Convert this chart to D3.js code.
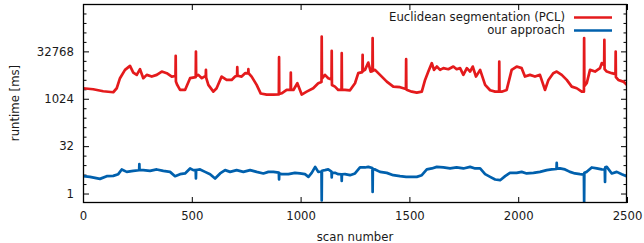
<!DOCTYPE html>
<html>
<head>
<meta charset="utf-8">
<script src="https://cdn.jsdelivr.net/npm/d3@7"></script>
<style>
  html, body { margin: 0; padding: 0; background: #fff; }
  svg { display: block; }
  text { font-family: "DejaVu Sans", sans-serif; fill: #1a1a1a; }
</style>
</head>
<body>
<svg id="chart" width="644" height="243"></svg>
<script>
// ---- data ----
const seriesNames = ["Euclidean segmentation (PCL)", "our approach"];
const seriesColors = ["#e41a1c", "#0060ad"];

const xTicks = [0, 500, 1000, 1500, 2000, 2500];
const yTicks = [1, 32, 1024, 32768];
const yDomain = [0.5, 1048576];

const pclScan = [0, 47, 93, 139, 155, 170, 193, 216, 231, 247, 262, 277, 293, 316, 339, 362, 385, 408,
  425, 426, 427, 433, 446, 469, 492, 518, 519, 520, 530, 546, 564, 565, 566, 576, 599, 614, 637, 660, 683,
  699, 708, 709, 710, 729, 745, 759, 760, 761, 775, 798, 817, 844, 875, 900, 901, 902, 913, 936, 954, 955,
  956, 967, 985, 1005, 1028, 1058, 1081, 1096, 1097, 1098, 1112, 1127, 1142, 1143, 1144, 1158, 1173, 1188,
  1189, 1190, 1204, 1227, 1250, 1265, 1284, 1285, 1286, 1296, 1311, 1322, 1330, 1331, 1332, 1342, 1365,
  1396, 1426, 1457, 1484, 1485, 1486, 1490, 1511, 1534, 1557, 1572, 1587, 1603, 1613, 1626, 1641, 1656,
  1679, 1702, 1717, 1733, 1748, 1764, 1779, 1791, 1806, 1825, 1848, 1871, 1894, 1912, 1913, 1914, 1924,
  1947, 1970, 1993, 2016, 2031, 2054, 2077, 2100, 2123, 2139, 2161, 2177, 2200, 2223, 2246, 2269, 2292,
  2302, 2303, 2304, 2315, 2330, 2353, 2376, 2384, 2395, 2396, 2397, 2407, 2430, 2447, 2448, 2449, 2460,
  2483, 2500];
const pclMs = [2210, 2055, 1775, 1650, 2210, 4610, 8480, 11350, 6940, 5870, 8900, 4610, 5870, 5185, 5870,
  7490, 6655, 5185,
  5400, 23660, 3600, 2818, 1951, 1951, 4610, 5000, 32330, 5400, 5870, 4610, 5500, 8480, 4800, 2818, 1722,
  2210, 5185, 4066, 4066,
  5185, 5500, 10300, 5500, 5185, 6655, 6600, 8900, 6600, 5185, 2818, 1500, 1390, 1390, 1400, 21480, 1450,
  1530, 1951, 1951, 6940,
  1951, 1951, 3190, 1390, 1722, 2210, 3190, 3500, 97300, 4500, 5870, 4610, 4200, 34140, 2800, 2486, 1951,
  1951, 28750, 1951, 1951, 1903, 3190, 6655, 7200, 25380, 7800, 8480, 14470, 7490, 7700, 86500, 8000, 8480,
  5870, 3590, 2486, 2385, 2100, 18560, 2000, 1951, 1722, 1607, 1722, 4066, 7490, 13870, 8480, 10810, 8480,
  9610, 8900, 10810, 8900, 9610, 5870, 9610, 7490, 10810, 5185, 8480, 2818, 1903, 1722, 1722, 15600, 1722,
  1722, 1951, 8480, 10810, 9610, 5185, 5870, 5185, 5870, 1951, 4066, 6655, 7490, 5870, 4066, 2486, 2210,
  1722, 1722, 86500, 2600, 3190, 8480, 7490, 9610, 13870, 12000, 76350, 9000, 7490, 6655, 6200, 32330,
  5000, 4066, 3590, 2818];

const oursScan = [0, 32, 78, 109, 139, 162, 178, 201, 231, 258, 259, 260, 277, 308, 339, 369, 400, 423, 446,
  469, 492, 507, 518, 519, 520, 538, 561, 584, 607, 630, 653, 676, 706, 737, 768, 798, 829, 852, 875, 900,
  901, 902, 913, 944, 974, 997, 1020, 1036, 1051, 1067, 1081, 1096, 1097, 1098, 1112, 1127, 1142, 1143,
  1144, 1158, 1173, 1188, 1189, 1190, 1204, 1227, 1250, 1273, 1296, 1311, 1330, 1331, 1332, 1342, 1365,
  1396, 1426, 1457, 1485, 1511, 1534, 1557, 1580, 1603, 1626, 1656, 1687, 1717, 1748, 1779, 1802, 1825,
  1848, 1871, 1894, 1917, 1940, 1962, 1993, 2016, 2039, 2070, 2100, 2131, 2154, 2176, 2177, 2178, 2192,
  2215, 2238, 2261, 2284, 2302, 2303, 2304, 2315, 2338, 2361, 2384, 2398, 2399, 2400, 2407, 2430, 2453,
  2476, 2498];
const oursMs = [3.56, 3.38, 2.92, 3.56, 3.64, 4.12, 5.82, 4.88, 5.24, 5.5, 8.57, 5.5, 5.53, 5.24, 5.82, 5.24,
  4.88, 3.56, 4.12, 4.34, 6.26, 5.53, 5.5, 3.0, 5.6, 5.82, 4.88, 4.12, 3.0, 4.34, 5.53, 4.88, 5.53, 4.88,
  5.53, 4.88, 4.34, 4.88, 4.88, 4.6, 2.79, 4.4, 4.12, 4.12, 4.53, 4.34, 4.12, 3.38, 4.53, 7.04, 4.88, 5.0,
  0.6, 5.3, 5.53, 5.82, 5.0, 3.23, 4.6, 4.53, 4.12, 4.1, 2.52, 4.1, 4.12, 3.83, 4.34, 6.73, 6.73, 7.04, 6.5,
  1.12, 6.0, 5.82, 4.88, 4.53, 3.83, 3.56, 3.38, 3.38, 3.38, 3.83, 5.82, 6.26, 7.04, 6.73, 6.26, 6.73, 6.26,
  7.04, 6.26, 6.26, 4.12, 3.38, 2.79, 2.65, 3.56, 4.53, 4.53, 4.88, 4.34, 4.53, 4.88, 5.53, 5.82, 6.0, 9.44,
  6.2, 6.26, 5.82, 4.88, 4.34, 4.12, 4.0, 0.5, 4.6, 4.88, 6.73, 6.26, 5.82, 5.8, 2.34, 6.8, 7.04, 4.34,
  4.88, 4.12, 3.56];

// ---- layout ----
const svg = d3.select("#chart");
const mL = 83, mR = 627, mT = 4, mB = 203;

const x = d3.scaleLinear().domain([0, 2500]).range([mL, mR]);
const y = d3.scaleLog().base(2).domain(yDomain).range([mB, mT]);
const yMinor = d3.range(0, 20).map(e => Math.pow(2, e)).filter(v => !yTicks.includes(v));

// clip
svg.append("defs").append("clipPath").attr("id", "plotclip")
  .append("rect").attr("x", mL).attr("y", mT).attr("width", mR - mL).attr("height", mB - mT);

// axes
const fs = "11.7px";
const gx = svg.append("g").attr("transform", `translate(0,${mB})`)
  .call(d3.axisBottom(x).tickValues(xTicks).tickSize(-6).tickPadding(9).tickFormat(d3.format("d")));
const gxt = svg.append("g").attr("transform", `translate(0,${mT})`)
  .call(d3.axisTop(x).tickValues(xTicks).tickSize(-6).tickFormat(""));
const gy = svg.append("g").attr("transform", `translate(${mL},0)`)
  .call(d3.axisLeft(y).tickValues(yTicks).tickSize(-6).tickPadding(9).tickFormat(d3.format("d")));
const gym = svg.append("g").attr("transform", `translate(${mL},0)`)
  .call(d3.axisLeft(y).tickValues(yMinor).tickSize(-3.5).tickFormat(""));
const gyr = svg.append("g").attr("transform", `translate(${mR},0)`)
  .call(d3.axisRight(y).tickValues(yTicks).tickSize(-6).tickFormat(""));
const gyrm = svg.append("g").attr("transform", `translate(${mR},0)`)
  .call(d3.axisRight(y).tickValues(yMinor).tickSize(-3.5).tickFormat(""));

[gx, gxt, gy, gym, gyr, gyrm].forEach(g => {
  g.select(".domain").remove();
  g.selectAll("line").attr("stroke", "#000").attr("stroke-width", 1);
  g.selectAll("text").attr("font-family", "DejaVu Sans").attr("font-size", fs).attr("fill", "#1a1a1a");
});

// series lines
const line = d3.line().x(d => x(d[0])).y(d => y(d[1]));
const plot = svg.append("g").attr("clip-path", "url(#plotclip)");
plot.append("path").datum(d3.zip(pclScan, pclMs))
  .attr("d", line).attr("fill", "none").attr("stroke", seriesColors[0])
  .attr("stroke-width", 2.7).attr("stroke-linejoin", "round");
plot.append("path").datum(d3.zip(oursScan, oursMs))
  .attr("d", line).attr("fill", "none").attr("stroke", seriesColors[1])
  .attr("stroke-width", 2.7).attr("stroke-linejoin", "round");

// frame
svg.append("rect").attr("x", mL + 0.5).attr("y", mT + 0.5)
  .attr("width", mR - mL - 1).attr("height", mB - mT - 1)
  .attr("fill", "none").attr("stroke", "#000").attr("stroke-width", 1.3);

// axis titles
svg.append("text").attr("x", (mL + mR) / 2).attr("y", 237)
  .attr("text-anchor", "middle").attr("dominant-baseline", "middle")
  .attr("font-size", fs).text("scan number");
svg.append("text").attr("transform", "translate(15,103) rotate(-90)")
  .attr("text-anchor", "middle").attr("dominant-baseline", "middle")
  .attr("font-size", fs).text("runtime [ms]");

// legend
const legY = [17.5, 30.5];
seriesNames.forEach((name, i) => {
  svg.append("text").attr("x", 565).attr("y", legY[i])
    .attr("text-anchor", "end").attr("dominant-baseline", "middle")
    .attr("font-size", fs).text(name);
  svg.append("line").attr("x1", 574).attr("x2", 612).attr("y1", legY[i]).attr("y2", legY[i])
    .attr("stroke", seriesColors[i]).attr("stroke-width", 2.4);
});
</script>
</body>
</html>
